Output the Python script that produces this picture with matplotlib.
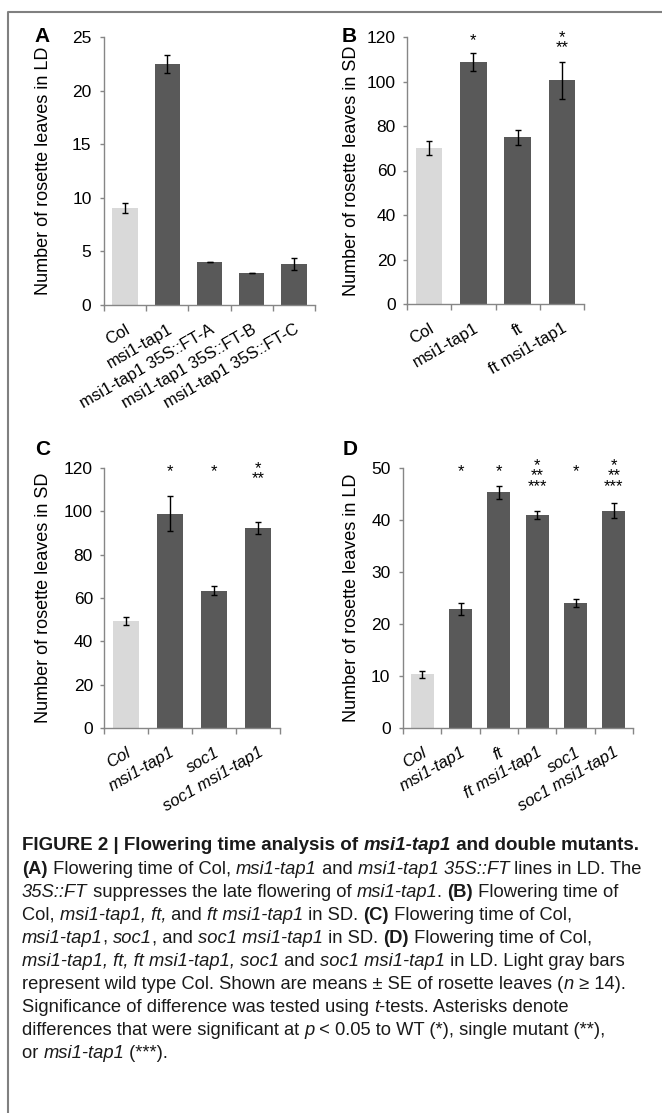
import matplotlib

matplotlib.use("Agg")
import matplotlib.pyplot as plt
from matplotlib.lines import Line2D
from matplotlib.transforms import offset_copy

W, H = 662, 1113

# panel A: LD, 35S::FT lines
a_labels = ["Col", "msi1-tap1", "msi1-tap1 35S::FT-A", "msi1-tap1 35S::FT-B",
            "msi1-tap1 35S::FT-C"]
a_means = [9.05, 22.5, 4.0, 3.0, 3.8]
a_err = [0.45, 0.85, 0.03, 0.03, 0.55]
a_stars = ["", "", "", "", ""]

# panel B: SD, ft
b_labels = ["Col", "msi1-tap1", "ft", "ft msi1-tap1"]
b_means = [70.0, 108.6, 74.9, 100.5]
b_err = [3.1, 4.0, 3.5, 8.4]
b_stars = ["", "*", "", "*\n**"]

# panel C: SD, soc1
c_labels = ["Col", "msi1-tap1", "soc1", "soc1 msi1-tap1"]
c_means = [49.5, 99.0, 63.4, 92.3]
c_err = [1.8, 8.0, 2.0, 2.7]
c_stars = ["", "*", "*", "*\n**"]

# panel D: LD, ft and soc1
d_labels = ["Col", "msi1-tap1", "ft", "ft msi1-tap1", "soc1", "soc1 msi1-tap1"]
d_means = [10.3, 22.9, 45.3, 41.0, 24.1, 41.8]
d_err = [0.6, 1.2, 1.2, 0.8, 0.8, 1.5]
d_stars = ["", "*", "*", "*\n**\n***", "*", "*\n**\n***"]

LIGHT = "#d9d9d9"
DARK = "#595959"
AXC = "#868686"

plt.rcParams["font.family"] = ["Liberation Sans", "DejaVu Sans"]

fig = plt.figure(figsize=(W / 100, H / 100), dpi=100)


def box(x0, y0, x1, y1):
    return [x0 / W, 1 - y1 / H, (x1 - x0) / W, (y1 - y0) / H]


def panel(rect, letter, letter_xy, label_x, labels, means, err, stars, ymax,
          step, ylabel, italic):
    ax = fig.add_axes(box(*rect))
    n = len(labels)
    x = list(range(n))
    colors = [LIGHT] + [DARK] * (n - 1)
    ax.bar(x, means, width=0.6, color=colors, edgecolor="none", zorder=2)
    ax.errorbar(x, means, yerr=err, fmt="none", ecolor="black", elinewidth=1,
                capsize=2.5, capthick=1, zorder=3)
    ax.set_xlim(-0.5, n - 0.5)
    ax.set_ylim(0, ymax)
    ax.set_yticks(range(0, ymax + 1, step))
    ax.set_xticks(x)
    ax.set_xticks([i - 0.5 for i in range(n + 1)], minor=True)
    ax.tick_params(axis="x", which="major", length=0, pad=12)
    ax.tick_params(axis="x", which="minor", length=4, color=AXC, width=1)
    ax.tick_params(axis="y", length=3, color=AXC, width=1, labelsize=12.5,
                   pad=6 if ymax < 100 else 5)
    ax.set_xticklabels(labels, rotation=30, ha="right", rotation_mode="anchor",
                       fontsize=12, style="italic" if italic else "normal")
    for s in ("top", "right"):
        ax.spines[s].set_visible(False)
    for s in ("left", "bottom"):
        ax.spines[s].set_color(AXC)
        ax.spines[s].set_linewidth(1)
    ax.set_ylabel(ylabel, fontsize=13)
    ax.yaxis.set_label_coords(-(rect[0] - label_x) / (rect[2] - rect[0]), 0.5)
    for i, s in enumerate(stars):
        if s:
            rows = s.count("\n")
            tr = offset_copy(ax.transData, fig=fig, x=0, y=-8 - 7.5 * rows,
                             units="dots")
            ax.text(i, ymax, s, ha="center", va="baseline", fontsize=12,
                    linespacing=0.62, transform=tr, clip_on=False)
    fig.text(letter_xy[0] / W, 1 - letter_xy[1] / H, letter, fontsize=15,
             fontweight="bold", ha="left", va="center")
    return ax


axA = panel((104, 37, 315, 305), "A", (34, 36), 52, a_labels, a_means, a_err,
            a_stars, 25, 5, "Number of rosette leaves in LD", False)
axB = panel((407, 37, 584, 304), "B", (342, 36), 360, b_labels, b_means, b_err,
            b_stars, 120, 20, "Number of rosette leaves in SD", False)
axC = panel((104, 468, 280, 728), "C", (35, 450), 52, c_labels, c_means, c_err,
            c_stars, 120, 20, "Number of rosette leaves in SD", True)
axD = panel((403, 468, 633, 728), "D", (343, 450), 360, d_labels, d_means,
            d_err, d_stars, 50, 10, "Number of rosette leaves in LD", True)

# frame (left and top edges)
fig.add_artist(Line2D([8 / W, 8 / W, 1.0], [0, 1 - 12 / H, 1 - 12 / H],
                      transform=fig.transFigure, color="#808080", lw=1.5))

caption = [
    [("FIGURE 2 | Flowering time analysis of ", "b"), ("msi1-tap1", "bi"),
     (" and double mutants.", "b")],
    [("(A)", "b"), (" Flowering time of Col, ", "n"), ("msi1-tap1", "i"),
     (" and ", "n"), ("msi1-tap1 35S::FT", "i"), (" lines in LD. The", "n")],
    [("35S::FT", "i"), (" suppresses the late flowering of ", "n"),
     ("msi1-tap1", "i"), (". ", "n"), ("(B)", "b"), (" Flowering time of", "n")],
    [("Col, ", "n"), ("msi1-tap1, ft,", "i"), (" and ", "n"),
     ("ft msi1-tap1", "i"), (" in SD. ", "n"), ("(C)", "b"),
     (" Flowering time of Col,", "n")],
    [("msi1-tap1", "i"), (", ", "n"), ("soc1", "i"), (", and ", "n"),
     ("soc1 msi1-tap1", "i"), (" in SD. ", "n"), ("(D)", "b"),
     (" Flowering time of Col,", "n")],
    [("msi1-tap1, ft, ft msi1-tap1, soc1", "i"), (" and ", "n"),
     ("soc1 msi1-tap1", "i"), (" in LD. Light gray bars", "n")],
    [("represent wild type Col. Shown are means \u00b1 SE of rosette leaves (", "n"),
     ("n", "i"), (" \u2265 14).", "n")],
    [("Significance of difference was tested using ", "n"), ("t", "i"),
     ("-tests. Asterisks denote", "n")],
    [("differences that were significant at ", "n"), ("p", "i"),
     (" < 0.05 to WT (*), single mutant (**),", "n")],
    [("or ", "n"), ("msi1-tap1", "i"), (" (***).", "n")],
]

renderer = fig.canvas.get_renderer()
y0, dy = 846, 23.1
for k, runs in enumerate(caption):
    xp = 22
    yp = y0 + k * dy
    size = 13.5 if k == 0 else 13.2
    for txt, st in runs:
        t = fig.text(xp / W, 1 - yp / H, txt, fontsize=size,
                     fontweight="bold" if "b" in st else "normal",
                     style="italic" if "i" in st else "normal",
                     color="#1a1a1a", ha="left", va="center")
        xp += t.get_window_extent(renderer=renderer).width

fig.savefig("out.png", dpi=100)
